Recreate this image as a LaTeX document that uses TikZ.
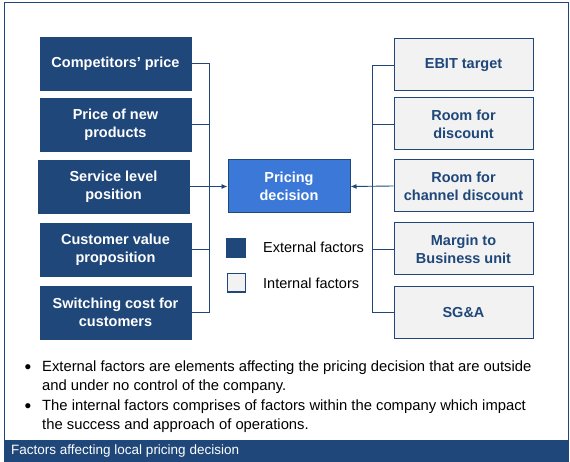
\documentclass[tikz,border=0pt]{standalone}
\usepackage{fontspec}
\setmainfont{Liberation Sans}
\usetikzlibrary{arrows.meta}

\definecolor{navy}{RGB}{31,71,122}
\definecolor{midblue}{RGB}{59,120,216}
\definecolor{paleg}{RGB}{242,242,242}

\begin{document}
\begin{tikzpicture}[x=1pt, y=-1pt,
	extbox/.style={draw=navy, fill=navy, text=white, font=\fontsize{14.5}{18}\bfseries\selectfont,
		align=center, minimum width=151pt, minimum height=53pt, inner sep=0pt},
	intbox/.style={draw=navy, fill=paleg, text=navy, line width=1pt, font=\fontsize{14.5}{18}\bfseries\selectfont,
		align=center, minimum width=139pt, minimum height=52pt, inner sep=0pt},
	link/.style={draw=navy, line width=0.9pt},
	plain/.style={font=\fontsize{14.5}{18}\selectfont, inner sep=0pt},
	note/.style={font=\fontsize{14.8}{18.5}\selectfont, inner sep=0pt},
	dot/.style={font=\fontsize{19}{19}\selectfont, inner sep=0pt}]

\useasboundingbox (0,0) rectangle (570,462);

% frame and caption bar
	\draw[navy, line width=1pt] (4,2.5) rectangle (568,461);
	\fill[navy] (4,440) rectangle (568,461);
	\node[plain, anchor=west, text=white, font=\fontsize{13.5}{16}\selectfont] (cap) at (11,451)
		{Factors affecting local pricing decision};

% external factors
	\node[extbox] (lb1) at (115.5,63.5) {Competitors’ price};
	\node[extbox] (lb2) at (115.5,124.5) {Price of new\\products};
	\node[extbox] (lb3) at (113.5,186.5) {Service level\\position};
	\node[extbox] (lb4) at (115.5,249.5) {Customer value\\proposition};
	\node[extbox] (lb5) at (115.5,312.5) {Switching cost for\\customers};

% internal factors
	\node[intbox] (rb1) at (463.5,65) {EBIT target};
	\node[intbox] (rb2) at (463.5,124) {Room for\\discount};
	\node[intbox] (rb3) at (463.5,186) {Room for\\channel discount};
	\node[intbox] (rb4) at (463.5,249) {Margin to\\Business unit};
	\node[intbox] (rb5) at (463.5,312.5) {SG\&A};

% decision
	\node[extbox, draw=navy, fill=midblue, minimum width=122pt, line width=1pt] (pd) at (289,186.5)
		{Pricing\\decision};

% connectors
	\coordinate (lbus) at (209,0);
	\coordinate (rbus) at (372,0);
	\draw[link] (lb1.east) -- (lb1.east -| lbus) -- (lb5.east -| lbus) -- (lb5.east);
	\draw[link] (lb2.east) -- (lb2.east -| lbus);
	\draw[link] (lb4.east) -- (lb4.east -| lbus);
	\draw[link, -{Latex[length=6pt,width=5pt]}] (lb3.east) -- (pd.west);

	\draw[link] (rb1.west) -- (rb1.west -| rbus) -- (rb5.west -| rbus) -- (rb5.west);
	\draw[link] (rb2.west) -- (rb2.west -| rbus);
	\draw[link] (rb4.west) -- (rb4.west -| rbus);
	\draw[link, -{Latex[length=6pt,width=5pt]}] (rb3.west) -- (pd.east);

% legend
	\node[draw=navy, fill=navy, minimum size=19pt, inner sep=0pt] (kext) at (236,247.5) {};
	\node[draw=navy, fill=paleg, line width=1pt, minimum size=18pt, inner sep=0pt] (kint) at (236,283) {};
	\node[plain, anchor=west] (lext) at (263,247.5) {External factors};
	\node[plain, anchor=west] (lint) at (263,283) {Internal factors};

% notes (base = last line)
	\node[dot, anchor=base] (d1) at (28,373.5) {•};
	\node[note, anchor=base west, align=left] (n1) at (42,390)
		{External factors are elements affecting the pricing decision that are outside\\
		 and under no control of the company.};
	\node[dot, anchor=base] (d2) at (28,412.5) {•};
	\node[note, anchor=base west, align=left] (n2) at (42,429)
		{The internal factors comprises of factors within the company which impact\\
		 the success and approach of operations.};

\end{tikzpicture}
\end{document}
